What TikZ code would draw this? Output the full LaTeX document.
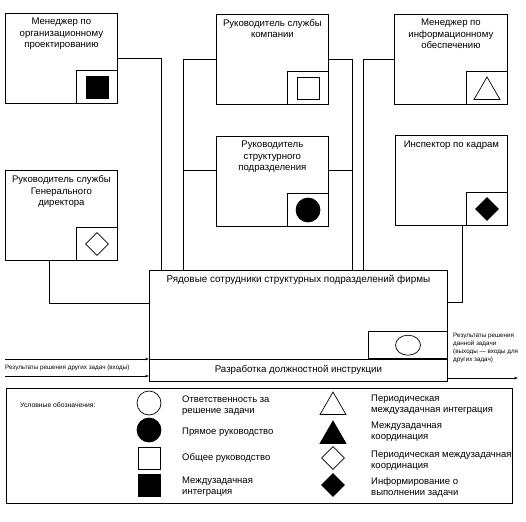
\documentclass[tikz,border=0pt]{standalone}
\usepackage{fontspec}
\setmainfont{Liberation Sans}
\usetikzlibrary{arrows.meta,shapes.geometric,calc}
\begin{document}
\begin{tikzpicture}[x=1pt,y=-1pt,
  box/.style={draw, line width=0.8pt, anchor=north west, inner sep=0pt, minimum width=112pt, minimum height=90pt},
  subbox/.style={draw, line width=0.6pt, anchor=south east, inner sep=0pt, minimum width=41pt, minimum height=33pt},
  btext/.style={anchor=north, align=center, font=\fontsize{9.6}{11.3}\selectfont, inner sep=0pt},
  conn/.style={line width=0.6pt},
  arr/.style={line width=0.6pt, -{Stealth[length=4pt,width=2.6pt]}},
  small/.style={font=\fontsize{6.3}{8}\selectfont, inner sep=0pt, align=left},
  leg/.style={font=\fontsize{9.5}{11}\selectfont, anchor=west, align=left, inner sep=0pt},
  osq/.style={draw, line width=0.7pt, minimum size=22pt, inner sep=0pt},
  fsq/.style={draw, fill=black, line width=0.7pt, minimum size=22pt, inner sep=0pt},
  ocirc/.style={circle, draw, line width=0.7pt, minimum size=24pt, inner sep=0pt},
  fcirc/.style={circle, draw, fill=black, line width=0.7pt, minimum size=24pt, inner sep=0pt},
  otri/.style={regular polygon, regular polygon sides=3, draw, line width=0.7pt, minimum size=30pt, inner sep=0pt},
  ftri/.style={regular polygon, regular polygon sides=3, draw, fill=black, line width=0.7pt, minimum size=30pt, inner sep=0pt},
  odia/.style={diamond, draw, line width=0.7pt, minimum width=23pt, minimum height=23pt, inner sep=0pt},
  fdia/.style={diamond, draw, fill=black, line width=0.7pt, minimum width=23pt, minimum height=23pt, inner sep=0pt}
]
\useasboundingbox[fill=white] (0,0) rectangle (526,521);

% boxes
\node[box] (A) at (5,13) {};
\node[btext] (At) at ([yshift=-5pt]A.north) {Менеджер по\\организационному\\проектированию};
\node[subbox] (Ai) at (A.south east) {};
\node[fsq] (As) at (Ai) {};

\node[box] (B) at (216,14) {};
\node[btext] (Bt) at ([yshift=-5pt]B.north) {Руководитель службы\\компании};
\node[subbox] (Bi) at (B.south east) {};
\node[osq] (Bs) at (Bi) {};

\node[box, minimum width=113pt] (C) at (394,14) {};
\node[btext] (Ct) at ([yshift=-5pt]C.north) {Менеджер по\\информационному\\обеспечению};
\node[subbox] (Ci) at (C.south east) {};
\node[otri] (Cs) at ([yshift=-4pt]Ci.center) {};

\node[box] (D) at (216,136) {};
\node[btext] (Dt) at ([yshift=-5pt]D.north) {Руководитель\\структурного\\подразделения};
\node[subbox] (Di) at (D.south east) {};
\node[fcirc] (Ds) at (Di) {};

\node[box] (E) at (395,135) {};
\node[btext] (Et) at ([yshift=-5.5pt]E.north) {Инспектор по кадрам};
\node[subbox] (Ei) at (E.south east) {};
\node[fdia] (Es) at (Ei) {};

\node[box] (F) at (5,170) {};
\node[btext] (Ft) at ([yshift=-5.5pt]F.north) {Руководитель службы\\Генерального\\директора};
\node[subbox] (Fi) at (F.south east) {};
\node[odia] (Fs) at (Fi) {};

% main box
\node[box, minimum width=298pt, minimum height=111pt] (G) at (149,270) {};
\node[btext, font=\fontsize{9.9}{11}\selectfont] (Gt) at ([yshift=-4.5pt]G.north) {Рядовые сотрудники структурных подразделений фирмы};
\node[draw, line width=0.8pt, anchor=south west, inner sep=0pt, minimum width=298pt, minimum height=22pt, font=\fontsize{9.7}{11}\selectfont] (H) at (G.south west) {Разработка должностной инструкции};
\node[draw, line width=0.6pt, anchor=south east, inner sep=0pt, minimum width=79pt, minimum height=27pt] (Gi) at (H.north east) {};
\node[ellipse, draw, line width=0.7pt, minimum width=25pt, minimum height=20pt, inner sep=0pt] (Gs) at (Gi) {};

% connectors
\coordinate (lv) at ([xshift=34pt]G.north west);
\coordinate (rv) at ([xshift=-96pt]G.north east);
\coordinate (dl) at ([yshift=11pt]D.west);
\coordinate (dr) at ([yshift=11pt]D.east);
\draw[conn] (A.east) -| ([xshift=12pt]G.north west);
\draw[conn] (B.west) -| (lv);
\draw[conn] (dl) -- (dl -| lv);
\draw[conn] (B.east) -| (rv);
\draw[conn] (dr) -- (dr -| rv);
\draw[conn] (C.west) -| ([xshift=-85pt]G.north east);
\draw[conn] ([xshift=11pt]E.south) |- ([yshift=-32pt]G.north east);
\draw[conn] ([xshift=-12pt]F.south) |- ([yshift=-33pt]G.north west);

% inputs and output
\coordinate (in1) at (5,359);
\coordinate (in2) at (5,376);
\coordinate (out) at (518,378);
\draw[arr] (in1) -- (in1 -| G.west);
\draw[arr] (in2) -- (in2 -| G.west);
\node[small, anchor=west] (inT) at (5,367.5) {Результаты решения других задач (входы)};
\draw[arr] (out -| G.east) -- (out);
\node[small, anchor=north west] (outT) at (453,333) {Результаты решения\\данной задачи\\(выходы — входы для\\других задач)};

% legend
\node[draw, line width=0.8pt, anchor=north west, inner sep=0pt, minimum width=506pt, minimum height=115pt] (L) at (6,388) {};
\node[small, anchor=west, font=\fontsize{6.8}{8}\selectfont] (Lt) at (20,405) {Условные обозначения:};

\node[ocirc] (L1) at (149,403) {};
\node[fcirc] (L2) at (149,430) {};
\node[osq] (L3) at (149,458) {};
\node[fsq] (L4) at (149,485) {};
\node[leg] (L1t) at (182,406) {Ответственность за\\решение задачи};
\node[leg] (L2t) at (182,432) {Прямое руководство};
\node[leg] (L3t) at (182,458) {Общее руководство};
\node[leg] (L4t) at (182,487) {Междузадачная\\интеграция};

\node[otri] (R1) at (333,407) {};
\node[ftri] (R2) at (333,436) {};
\node[odia] (R3) at (333,458) {};
\node[fdia] (R4) at (333,485) {};
\node[leg] (R1t) at (371,405) {Периодическая\\междузадачная интеграция};
\node[leg] (R2t) at (371,432) {Междузадачная\\координация};
\node[leg] (R3t) at (371,461) {Периодическая междузадачная\\координация};
\node[leg] (R4t) at (371,487) {Информирование о\\выполнении задачи};
\end{tikzpicture}
\end{document}
